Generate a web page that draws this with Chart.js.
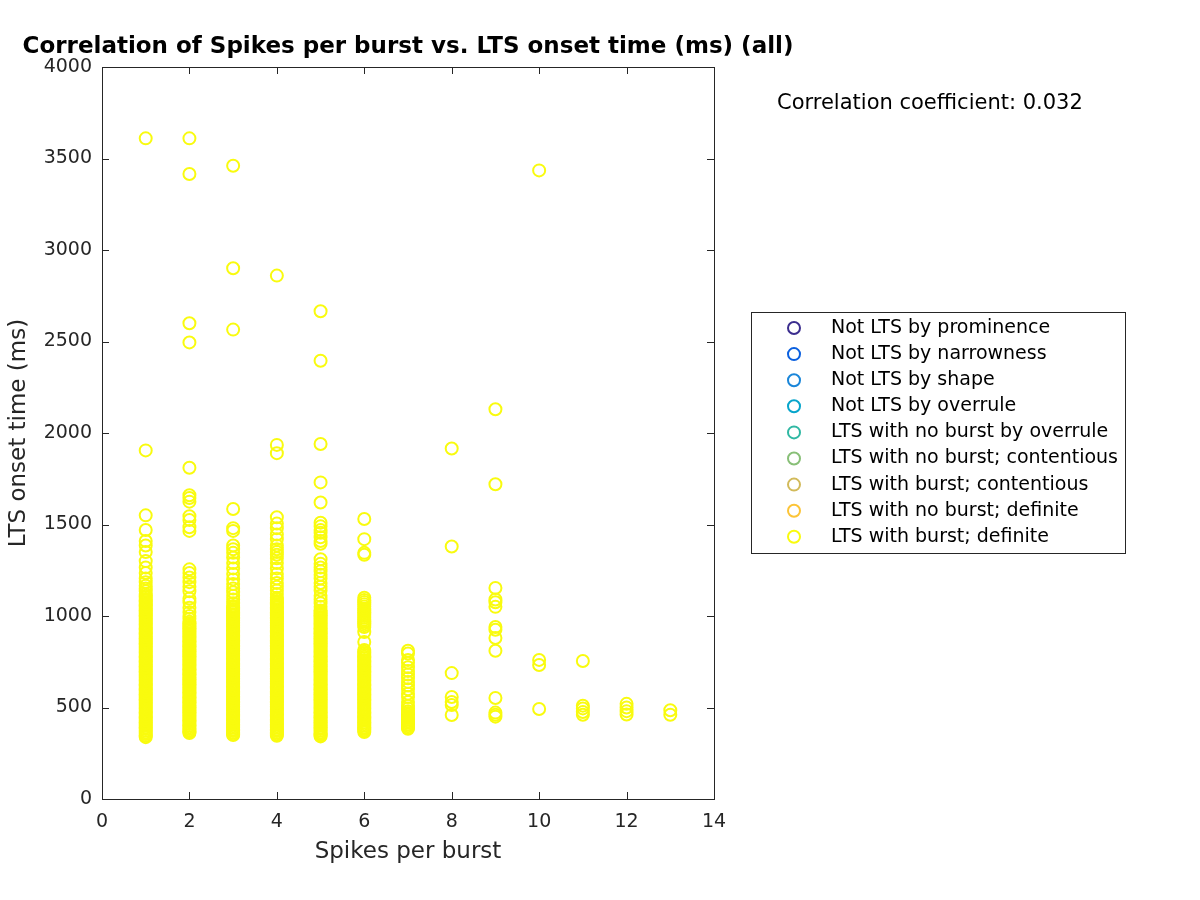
<!DOCTYPE html>
<html>
<head>
<meta charset="utf-8">
<title>Spikes per burst vs. LTS onset time</title>
<script src="https://cdn.jsdelivr.net/npm/chart.js@4.4.0/dist/chart.umd.min.js"></script>
<style>
  html, body { margin: 0; padding: 0; background: #fff; }
  #wrap { width: 1200px; height: 900px; }
</style>
</head>
<body>
<div id="wrap"><canvas id="chart" width="1200" height="900"></canvas></div>
<script>
// x categories (spikes per burst) and LTS onset times
const spikesPerBurst = [1, 2, 3, 4, 5, 6, 7, 8, 9, 10, 11, 12, 13];

const onset1 = [3610, 1905, 1550, 1470, 1410, 1385, 1350, 1300, 1265, 1235, 1205, 1185, 1165, 1150, 1135,
  1120, 1111, 1102, 1093, 1084, 1075, 1066, 1057, 1048, 1039, 1030, 1021, 1012, 1003, 994, 985, 976, 967,
  958, 949, 940, 931, 922, 913, 904, 895, 886, 877, 868, 859, 850, 841, 832, 823, 814, 805, 796, 787, 778,
  769, 760, 751, 742, 733, 724, 715, 706, 697, 688, 679, 670, 661, 652, 643, 634, 625, 616, 607, 598, 589,
  580, 571, 562, 553, 544, 535, 526, 517, 508, 499, 490, 481, 472, 463, 454, 445, 436, 427, 418, 409, 400,
  391, 382, 373, 364, 355, 346, 338];
const onset2 = [3610, 3415, 2600, 2495, 1810, 1660, 1645, 1625, 1545, 1525, 1485, 1465, 1255, 1235, 1210, 1185,
  1160, 1135, 1095, 1075, 1045, 1020, 1000, 985, 968, 959, 950, 941, 932, 923, 914, 905, 896, 887, 878, 869,
  860, 851, 842, 833, 824, 815, 806, 797, 788, 779, 770, 761, 752, 743, 734, 725, 716, 707, 698, 689, 680,
  671, 662, 653, 644, 635, 626, 617, 608, 599, 590, 581, 572, 563, 554, 545, 536, 527, 518, 509, 500, 491,
  482, 473, 464, 455, 446, 437, 428, 419, 410, 401, 392, 383, 374, 366, 360];
const onset3 = [3460, 2900, 2565, 1585, 1480, 1465, 1385, 1365, 1345, 1320, 1290, 1260, 1230, 1200, 1175, 1150,
  1130, 1110, 1090, 1070, 1055, 1046, 1037, 1028, 1019, 1010, 1001, 992, 983, 974, 965, 956, 947, 938, 929,
  920, 911, 902, 893, 884, 875, 866, 857, 848, 839, 830, 821, 812, 803, 794, 785, 776, 767, 758, 749, 740,
  731, 722, 713, 704, 695, 686, 677, 668, 659, 650, 641, 632, 623, 614, 605, 596, 587, 578, 569, 560, 551,
  542, 533, 524, 515, 506, 497, 488, 479, 470, 461, 452, 443, 434, 425, 416, 407, 398, 389, 380, 371, 362,
  354, 350];
const onset4 = [2860, 1935, 1890, 1540, 1505, 1480, 1445, 1420, 1385, 1365, 1350, 1335, 1315, 1290, 1260, 1230,
  1205, 1180, 1160, 1140, 1120, 1100, 1091, 1082, 1073, 1064, 1055, 1046, 1037, 1028, 1019, 1010, 1001, 992,
  983, 974, 965, 956, 947, 938, 929, 920, 911, 902, 893, 884, 875, 866, 857, 848, 839, 830, 821, 812, 803,
  794, 785, 776, 767, 758, 749, 740, 731, 722, 713, 704, 695, 686, 677, 668, 659, 650, 641, 632, 623, 614,
  605, 596, 587, 578, 569, 560, 551, 542, 533, 524, 515, 506, 497, 488, 479, 470, 461, 452, 443, 434, 425,
  416, 407, 398, 389, 380, 371, 362, 354, 346];
const onset5 = [2665, 2395, 1940, 1730, 1620, 1510, 1490, 1470, 1455, 1430, 1410, 1395, 1310, 1285, 1265, 1245,
  1225, 1205, 1180, 1160, 1140, 1110, 1090, 1070, 1050, 1030, 1021, 1012, 1003, 994, 985, 976, 967, 958, 949,
  940, 931, 922, 913, 904, 895, 886, 877, 868, 859, 850, 841, 832, 823, 814, 805, 796, 787, 778, 769, 760,
  751, 742, 733, 724, 715, 706, 697, 688, 679, 670, 661, 652, 643, 634, 625, 616, 607, 598, 589, 580, 571,
  562, 553, 544, 535, 526, 517, 508, 499, 490, 481, 472, 463, 454, 445, 436, 427, 418, 409, 400, 391, 382,
  373, 364, 355, 348, 342];
const onset6 = [1530, 1420, 1345, 1335, 1100, 1088, 1076, 1064, 1052, 1040, 1030, 1020, 1010, 1000, 990, 980,
  970, 960, 950, 940, 912, 858, 814, 805, 796, 787, 778, 769, 760, 751, 742, 733, 724, 715, 706, 697, 688,
  679, 670, 661, 652, 643, 634, 625, 616, 607, 598, 589, 580, 571, 562, 553, 544, 535, 526, 517, 508, 499,
  490, 481, 472, 463, 454, 445, 436, 427, 418, 409, 400, 391, 382, 374, 366];
const onset7 = [810, 795, 760, 745, 720, 700, 680, 660, 640, 620, 600, 575, 557, 530, 510, 495, 480, 470, 461,
  452, 443, 434, 425, 416, 407, 398, 390, 384];
const onset8 = [1915, 1380, 688, 557, 530, 514, 459];
const onset9 = [2130, 1720, 1153, 1090, 1075, 1050, 940, 925, 880, 810, 552, 472, 460, 450];
const onset10 = [3435, 760, 732, 492];
const onset11 = [754, 510, 495, 475, 460];
const onset12 = [520, 500, 480, 462];
const onset13 = [485, 460];

const onsetByColumn = [onset1, onset2, onset3, onset4, onset5, onset6, onset7, onset8, onset9,
  onset10, onset11, onset12, onset13];

const classLabels = ['Not LTS by prominence', 'Not LTS by narrowness', 'Not LTS by shape',
  'Not LTS by overrule', 'LTS with no burst by overrule', 'LTS with no burst; contentious',
  'LTS with burst; contentious', 'LTS with no burst; definite', 'LTS with burst; definite'];
const classColors = ['#3b2d8e', '#0b60df', '#1a86d9', '#07a5cb', '#30b8a3', '#88bf77',
  '#d2ba5a', '#fcc437', '#f9fb0e'];

const xTicks = [0, 2, 4, 6, 8, 10, 12, 14];
const yTicks = [0, 500, 1000, 1500, 2000, 2500, 3000, 3500, 4000];
const corrText = 'Correlation coefficient: 0.032';

// only the last class has points in this plot
const burstPoints = [];
spikesPerBurst.forEach((s, i) => {
  onsetByColumn[i].forEach(v => burstPoints.push({ x: s, y: v }));
});

const datasets = classLabels.map((lab, i) => ({
  label: lab,
  data: i === classLabels.length - 1 ? burstPoints : [],
  borderColor: classColors[i],
  backgroundColor: 'rgba(0,0,0,0)',
  pointRadius: 6,
  pointHoverRadius: 6,
  pointBorderWidth: 2,
  showLine: false
}));

const axisColor = '#262626';
const fontFam = 'DejaVu Sans, sans-serif';

const frame = {
  id: 'frame',
  afterDraw(chart) {
    const ctx = chart.ctx;
    const a = chart.chartArea;
    const xs = chart.scales.x, ys = chart.scales.y;
    ctx.save();
    ctx.strokeStyle = axisColor;
    ctx.lineWidth = 1;
    ctx.strokeRect(a.left + 0.5, a.top + 0.5, a.right - a.left, a.bottom - a.top);
    ctx.beginPath();
    xTicks.forEach(t => {
      const px = Math.round(xs.getPixelForValue(t)) + 0.5;
      ctx.moveTo(px, a.bottom); ctx.lineTo(px, a.bottom - 7);
      ctx.moveTo(px, a.top); ctx.lineTo(px, a.top + 7);
    });
    yTicks.forEach(t => {
      const py = Math.round(ys.getPixelForValue(t)) + 0.5;
      ctx.moveTo(a.left, py); ctx.lineTo(a.left + 7, py);
      ctx.moveTo(a.right, py); ctx.lineTo(a.right - 7, py);
    });
    ctx.stroke();

    // title
    ctx.fillStyle = '#000';
    ctx.font = 'bold 23px ' + fontFam;
    ctx.textAlign = 'center';
    ctx.textBaseline = 'middle';
    ctx.fillText('Correlation of Spikes per burst vs. LTS onset time (ms) (all)', (a.left + a.right) / 2, 47);

    // axis titles
    ctx.fillStyle = axisColor;
    ctx.font = '23px ' + fontFam;
    ctx.fillText('Spikes per burst', (a.left + a.right) / 2, 852);
    ctx.save();
    ctx.translate(19, (a.top + a.bottom) / 2);
    ctx.rotate(-Math.PI / 2);
    ctx.fillText('LTS onset time (ms)', 0, 0);
    ctx.restore();

    // correlation annotation
    ctx.fillStyle = '#000';
    ctx.font = '21px ' + fontFam;
    ctx.textAlign = 'left';
    ctx.fillText(corrText, 777, 104);

    // legend
    ctx.fillStyle = '#fff';
    ctx.fillRect(751, 312, 374, 241);
    ctx.strokeStyle = axisColor;
    ctx.strokeRect(751.5, 312.5, 374, 241);
    ctx.font = '19px ' + fontFam;
    chart.data.datasets.forEach((ds, i) => {
      const yy = 328 + i * 26.1;
      ctx.strokeStyle = ds.borderColor;
      ctx.lineWidth = 2;
      ctx.beginPath();
      ctx.arc(794, yy, 6, 0, Math.PI * 2);
      ctx.stroke();
      ctx.fillStyle = '#000';
      ctx.fillText(ds.label, 831, yy);
    });
    ctx.restore();
  }
};

const chart = new Chart(document.getElementById('chart'), {
  type: 'scatter',
  data: { datasets: datasets },
  options: {
    responsive: false,
    animation: false,
    events: [],
    layout: { padding: { top: 67, right: 486, bottom: 0, left: 0 } },
    plugins: {
      legend: { display: false },
      title: { display: false },
      tooltip: { enabled: false }
    },
    scales: {
      x: {
        type: 'linear',
        min: 0, max: 14,
        afterFit: s => { s.height = 101; },
        afterBuildTicks: s => { s.ticks = xTicks.map(v => ({ value: v })); },
        grid: { display: false, drawTicks: false },
        border: { display: false },
        ticks: { color: axisColor, padding: 12, maxRotation: 0, font: { family: fontFam, size: 19 },
          callback: v => String(v) }
      },
      y: {
        type: 'linear',
        min: 0, max: 4000,
        afterFit: s => { s.width = 102; },
        afterBuildTicks: s => { s.ticks = yTicks.map(v => ({ value: v })); },
        grid: { display: false, drawTicks: false },
        border: { display: false },
        ticks: { color: axisColor, padding: 10, font: { family: fontFam, size: 19 },
          callback: v => String(v) }
      }
    }
  },
  plugins: [frame]
});
</script>
</body>
</html>
